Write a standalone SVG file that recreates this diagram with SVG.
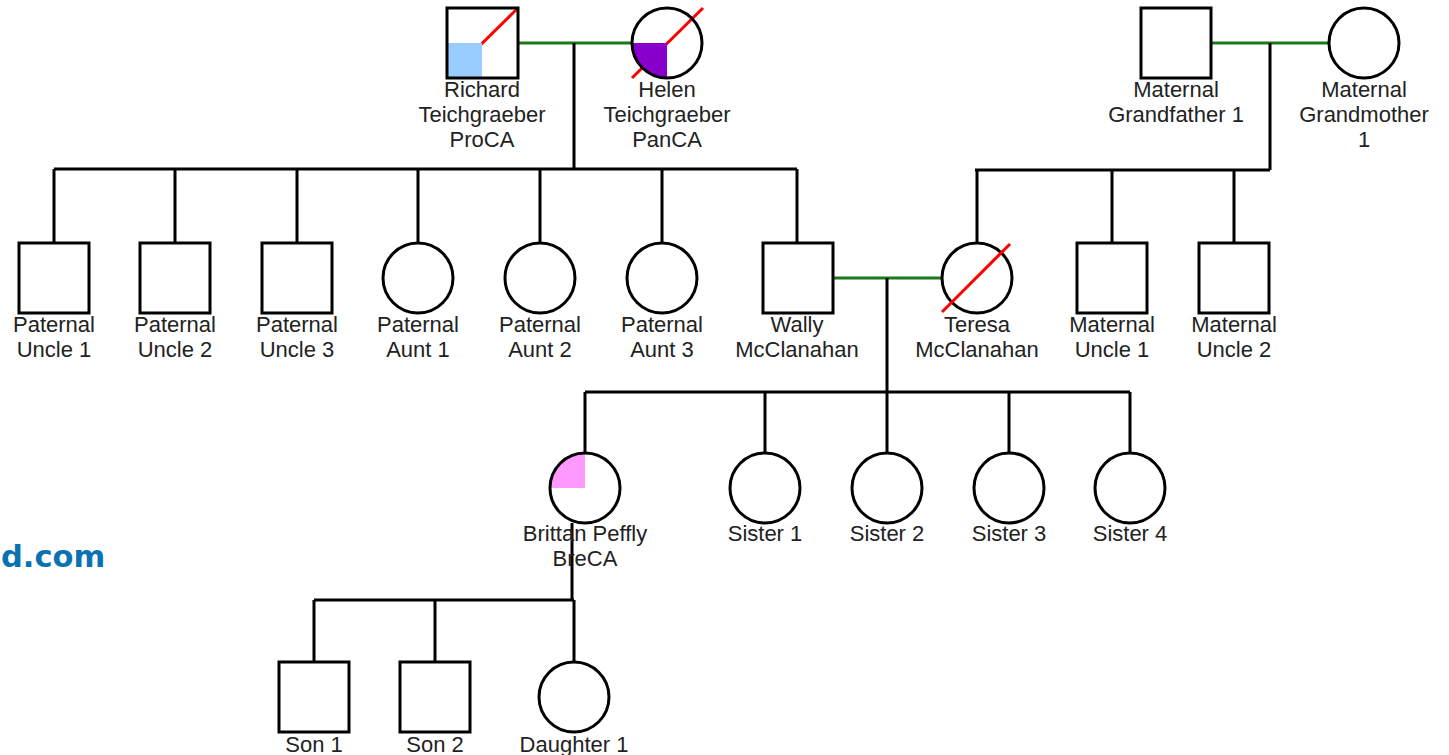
<svg xmlns="http://www.w3.org/2000/svg" width="1449" height="755" viewBox="0 0 1449 755">
<style>
.n{fill:none;stroke:#000;stroke-width:3}
.w{fill:#fff;stroke:none}
.l{fill:none;stroke:#000;stroke-width:3}
.g{fill:none;stroke:#1a7a1a;stroke-width:3}
.r{stroke:#ff0000;stroke-width:3}
text{font-family:"Liberation Sans",Arial,sans-serif;font-size:22px;fill:#222;text-anchor:middle}
.wm{font-family:"DejaVu Sans",Verdana,sans-serif;font-weight:bold;font-size:30.5px;fill:#0872b2;text-anchor:start}
</style>
<rect width="1449" height="755" fill="#fff"/>
<text class="wm" x="1" y="567">d.com</text>
<g id="connectors">
<path class="g" d="M518,43H632M1211,43H1329M833,278H942"/>
<path class="l" d="M574,43V169M54,169H797M54,169V243M175,169V243M297,169V243M418,169V243M540,169V243M662,169V243M797,169V243"/>
<path class="l" d="M1270,43V170M975,170H1270M977,170V243M1112,170V243M1234,170V243"/>
<path class="l" d="M887,278V392M585,392H1130M585,392V453M765,392V453M887,392V453M1009,392V453M1130,392V453"/>
<path class="l" d="M572,523V600M314,600H574M314,600V662M435,600V662M574,600V662"/>
</g>
<g id="richard">
<rect class="w" x="447" y="8" width="71" height="70"/>
<line class="r" x1="447" y1="78" x2="518" y2="8"/>
<rect x="447" y="43" width="35" height="35" fill="#99ccff"/>
<rect class="n" x="447" y="8" width="71" height="70"/>
<text x="482" y="97">Richard</text><text x="482" y="122">Teichgraeber</text><text x="482" y="147">ProCA</text>
</g>
<g id="helen">
<circle class="w" cx="667" cy="43" r="35"/>
<line class="r" x1="632" y1="78" x2="703" y2="8"/>
<path d="M667,43H632A35,35 0 0,0 667,78Z" fill="#8800cc"/>
<circle class="n" cx="667" cy="43" r="35"/>
<text x="667" y="97">Helen</text><text x="667" y="122">Teichgraeber</text><text x="667" y="147">PanCA</text>
</g>
<g id="mgf">
<rect class="n" x="1141" y="8" width="70" height="70"/>
<text x="1176" y="97">Maternal</text><text x="1176" y="122">Grandfather 1</text>
</g>
<g id="mgm">
<circle class="n" cx="1364" cy="43" r="35"/>
<text x="1364" y="97">Maternal</text><text x="1364" y="122">Grandmother</text><text x="1364" y="147">1</text>
</g>
<g id="pu1"><rect class="n" x="19" y="243" width="70" height="70"/><text x="54" y="332">Paternal</text><text x="54" y="357">Uncle 1</text></g>
<g id="pu2"><rect class="n" x="140" y="243" width="70" height="70"/><text x="175" y="332">Paternal</text><text x="175" y="357">Uncle 2</text></g>
<g id="pu3"><rect class="n" x="262" y="243" width="70" height="70"/><text x="297" y="332">Paternal</text><text x="297" y="357">Uncle 3</text></g>
<g id="pa1"><circle class="n" cx="418" cy="278" r="35"/><text x="418" y="332">Paternal</text><text x="418" y="357">Aunt 1</text></g>
<g id="pa2"><circle class="n" cx="540" cy="278" r="35"/><text x="540" y="332">Paternal</text><text x="540" y="357">Aunt 2</text></g>
<g id="pa3"><circle class="n" cx="662" cy="278" r="35"/><text x="662" y="332">Paternal</text><text x="662" y="357">Aunt 3</text></g>
<g id="wally"><rect class="n" x="763" y="243" width="70" height="70"/><text x="797" y="332">Wally</text><text x="797" y="357">McClanahan</text></g>
<g id="teresa">
<circle class="n" cx="977" cy="278" r="35"/>
<line class="r" x1="942" y1="312" x2="1010" y2="244"/>
<text x="977" y="332">Teresa</text><text x="977" y="357">McClanahan</text>
</g>
<g id="mu1"><rect class="n" x="1077" y="243" width="70" height="70"/><text x="1112" y="332">Maternal</text><text x="1112" y="357">Uncle 1</text></g>
<g id="mu2"><rect class="n" x="1199" y="243" width="70" height="70"/><text x="1234" y="332">Maternal</text><text x="1234" y="357">Uncle 2</text></g>
<g id="brittan">
<circle class="w" cx="585" cy="488" r="35"/>
<path d="M585,488H550A35,35 0 0,1 585,453Z" fill="#ff99ff"/>
<circle class="n" cx="585" cy="488" r="35"/>
<text x="585" y="541">Brittan Peffly</text><text x="585" y="566">BreCA</text>
</g>
<g id="s1"><circle class="n" cx="765" cy="488" r="35"/><text x="765" y="541">Sister 1</text></g>
<g id="s2"><circle class="n" cx="887" cy="488" r="35"/><text x="887" y="541">Sister 2</text></g>
<g id="s3"><circle class="n" cx="1009" cy="488" r="35"/><text x="1009" y="541">Sister 3</text></g>
<g id="s4"><circle class="n" cx="1130" cy="488" r="35"/><text x="1130" y="541">Sister 4</text></g>
<g id="son1"><rect class="n" x="279" y="662" width="70" height="70"/><text x="314" y="752">Son 1</text></g>
<g id="son2"><rect class="n" x="400" y="662" width="70" height="70"/><text x="435" y="752">Son 2</text></g>
<g id="d1"><circle class="n" cx="574" cy="697" r="35"/><text x="574" y="752">Daughter 1</text></g>
</svg>
